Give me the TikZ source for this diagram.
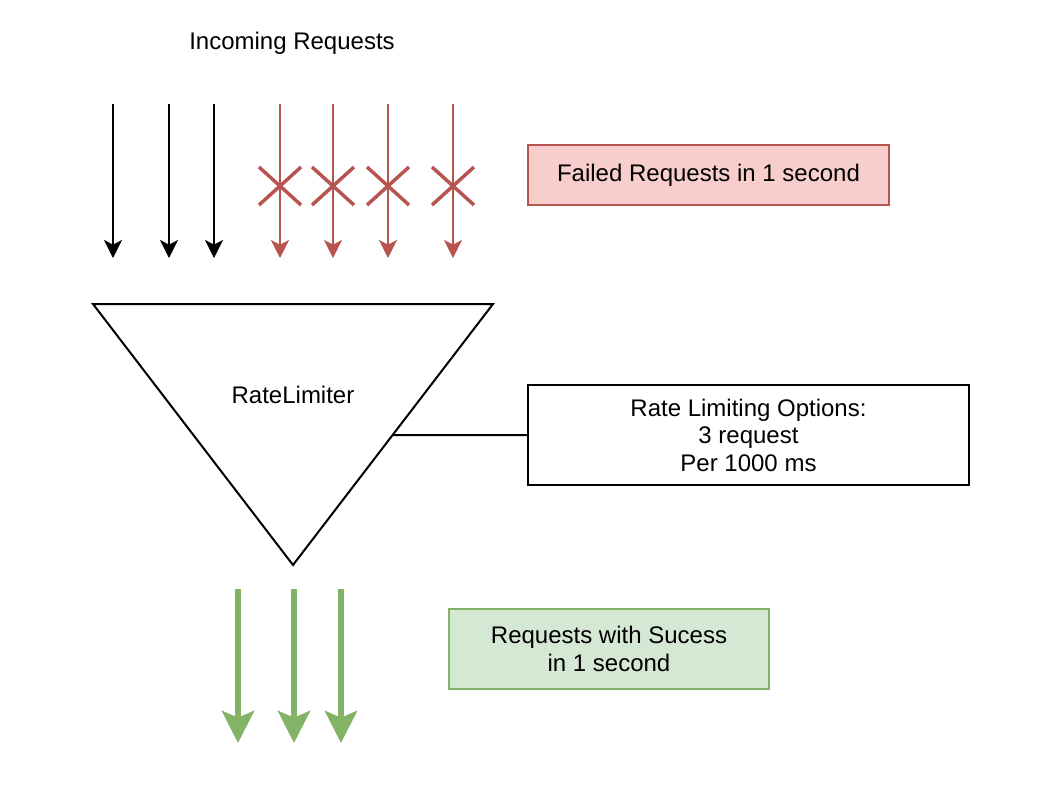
\documentclass[tikz,border=0pt]{standalone}
\usepackage{fontspec}
\setmainfont{Liberation Sans}
\usetikzlibrary{arrows.meta,calc}
\definecolor{redS}{HTML}{B85450}
\definecolor{redF}{HTML}{F8CECC}
\definecolor{grnS}{HTML}{82B366}
\definecolor{grnF}{HTML}{D5E8D4}
\tikzset{
  lbl/.style={font=\fontsize{18}{20.6}\selectfont, align=center, inner sep=0pt},
  infobox/.style={draw, line width=1.5pt, lbl},
  inarrow/.style={line width=1.5pt, -{Stealth[length=13.5pt,width=13.5pt,inset=3.5pt]}},
  failarrow/.style={inarrow, draw=redS, fill=redS},
  okarrow/.style={line width=4.5pt, draw=grnS, -{Stealth[length=24pt,width=24pt,inset=5pt]}},
  crossmark/.style={draw=redS, line width=2.6pt},
}
\begin{document}
\begin{tikzpicture}[x=0.75pt,y=-0.75pt]
\useasboundingbox (0,0) rectangle (1040,790);
\node[lbl] (title) at (292,43) {Incoming Requests};
% black incoming arrows
\foreach \i/\x in {1/113,2/169,3/214}{
  \coordinate (ia\i) at (\x,104);
  \coordinate (ib\i) at (\x,258);
  \draw[inarrow] (ia\i) -- (ib\i);
}
% failed arrows
\foreach \i/\x in {1/280,2/333,3/388,4/453}{
  \coordinate (fa\i) at (\x,104);
  \coordinate (fb\i) at (\x,258);
  \draw[failarrow] (fa\i) -- (fb\i);
  \coordinate (fx\i) at (\x,186);
  \draw[crossmark] ($(fx\i)+(-21,-19)$) -- ($(fx\i)+(21,19)$);
  \draw[crossmark] ($(fx\i)+(-21,19)$) -- ($(fx\i)+(21,-19)$);
}
\node[infobox, draw=redS, fill=redF, minimum width=270.75pt, minimum height=45pt] (failed) at (708.5,175) {Failed Requests in 1 second};
% triangle
\coordinate (tl) at (93,304);
\coordinate (tr) at (493,304);
\coordinate (tb) at (293,565);
\draw[line width=1.5pt, line join=miter] (tl) -- (tr) -- (tb) -- cycle;
\node[lbl] (rl) at (293,395) {RateLimiter};
\node[infobox, minimum width=330.75pt, minimum height=75pt] (opts) at (748.5,435) {Rate Limiting Options:\\3 request\\Per 1000 ms};
\coordinate (edge) at ($(tr)!0.502!(tb)$);
\draw[line width=1.5pt] (edge) -- (opts.west);
% success arrows
\foreach \i/\x in {1/238,2/294,3/341}{
  \coordinate (sa\i) at (\x,589);
  \coordinate (sb\i) at (\x,743);
  \draw[okarrow] (sa\i) -- (sb\i);
}
\node[infobox, draw=grnS, fill=grnF, minimum width=240pt, minimum height=60pt] (ok) at (609,649) {Requests with Sucess\\in 1 second};
\end{tikzpicture}
\end{document}
